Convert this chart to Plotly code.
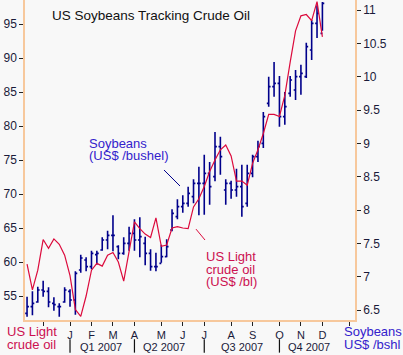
import pandas as pd
import plotly.graph_objects as go

# weekly index (weeks ending Sunday), Nov 2006 - Dec 2007
weeks = pd.date_range("2006-11-12", periods=56, freq="7D")

soy_open = [6.45, 6.55, 6.62, 6.80, 6.78, 6.60, 6.55, 6.62, 6.78, 6.65,
            7.10, 7.25, 7.15, 7.33, 7.40, 7.55, 7.62, 7.45, 7.35, 7.50,
            7.65, 7.55, 7.50, 7.35, 7.15, 7.20, 7.30, 7.70, 7.90, 8.05,
            8.10, 8.20, 8.40, 8.40, 8.55, 8.50, 8.95, 8.30, 8.40, 8.30,
            8.35, 8.10, 8.55, 8.80, 9.00, 9.60, 9.85, 9.90, 9.40, 9.75,
            9.80, 10.00, 10.00, 10.40, 10.80, 10.65]
soy_high = [6.70, 6.78, 6.85, 6.94, 6.84, 6.69, 6.60, 6.84, 6.81, 7.08,
            7.33, 7.29, 7.39, 7.39, 7.59, 7.69, 7.92, 7.47, 7.59, 7.75,
            7.86, 7.89, 7.60, 7.41, 7.36, 7.48, 7.56, 8.01, 8.16, 8.22,
            8.35, 8.46, 8.65, 8.83, 8.72, 9.17, 9.10, 8.46, 8.44, 8.62,
            8.68, 8.68, 8.83, 9.04, 9.47, 10.00, 10.22, 10.01, 9.77, 10.01,
            10.10, 10.18, 10.51, 10.85, 11.07, 11.12]
soy_low = [6.40, 6.42, 6.61, 6.70, 6.54, 6.49, 6.40, 6.61, 6.55, 6.43,
           7.06, 7.08, 7.11, 7.18, 7.39, 7.41, 7.38, 7.26, 7.33, 7.39,
           7.39, 7.29, 7.17, 7.09, 7.08, 7.21, 7.29, 7.68, 7.86, 7.96,
           8.05, 8.10, 7.92, 7.93, 8.08, 8.43, 8.53, 8.08, 8.17, 8.20,
           7.90, 8.05, 8.49, 8.72, 8.93, 9.55, 9.70, 9.25, 9.28, 9.70,
           9.65, 9.73, 9.98, 10.25, 10.58, 10.69]
soy_close = [6.55, 6.60, 6.80, 6.78, 6.62, 6.58, 6.55, 6.80, 6.65, 7.05,
             7.28, 7.15, 7.35, 7.35, 7.55, 7.62, 7.62, 7.35, 7.50, 7.65,
             7.55, 7.60, 7.35, 7.15, 7.15, 7.30, 7.45, 7.95, 8.05, 8.10,
             8.25, 8.40, 8.40, 8.55, 8.35, 8.95, 8.80, 8.40, 8.30, 8.35,
             8.05, 8.55, 8.80, 8.95, 9.40, 9.85, 9.90, 9.40, 9.55, 9.95,
             10.00, 10.05, 10.45, 10.80, 10.95, 11.10]
crude = [59.7, 55.9, 58.8, 63.3, 62.0, 63.4, 62.6, 61.0, 58.0, 53.0,
         52.0, 55.0, 58.8, 59.8, 59.4, 61.0, 61.4, 60.0, 57.2, 61.5,
         65.9, 64.9, 64.1, 63.6, 66.5, 62.3, 62.5, 65.0, 65.2, 65.0,
         64.9, 68.1, 69.3, 71.1, 73.3, 75.0, 76.5, 77.2, 75.6, 71.9,
         71.9, 71.3, 74.5, 76.5, 78.9, 81.7, 81.7, 81.4, 84.5, 89.4,
         94.0, 96.2, 96.4, 95.5, 98.3, 93.1]

month_ticks = ["2006-12-03", "2007-01-07", "2007-02-04", "2007-03-04", "2007-04-01",
               "2007-05-06", "2007-06-03", "2007-07-01", "2007-08-05", "2007-09-02",
               "2007-10-07", "2007-11-04", "2007-12-02", "2008-01-06"]
month_labels = ["", "J", "F", "M", "A", "M", "J", "J", "A", "S", "O", "N", "D", ""]
quarter_labels = ["Q1 2007", "Q2 2007", "Q3 2007", "Q4 2007"]
quarter_centers = ["2007-02-17", "2007-05-09", "2007-08-19", "2007-11-14"]
quarter_seps = ["2007-01-07", "2007-04-01", "2007-07-01", "2007-10-07"]

NAVY = "#00008B"
RED = "#DC0A3C"
AXIS = "#F7C89C"
TXT = "#1a1a3a"
FONT = "Liberation Sans"

fig = go.Figure()
fig.add_trace(go.Ohlc(
    x=weeks, open=soy_open, high=soy_high, low=soy_low, close=soy_close,
    increasing=dict(line=dict(color=NAVY, width=1.6)),
    decreasing=dict(line=dict(color=NAVY, width=1.6)),
    tickwidth=0.35, yaxis="y", showlegend=False, hoverinfo="skip"))
fig.add_trace(go.Scatter(
    x=weeks, y=crude, mode="lines", line=dict(color=RED, width=1.2),
    yaxis="y2", showlegend=False, hoverinfo="skip"))

fig.update_layout(
    width=403, height=355,
    margin=dict(l=25, r=48, t=0, b=35),
    paper_bgcolor="#F8F8F8", plot_bgcolor="#F8F8F8",
    font=dict(family=FONT, size=11, color=TXT),
    xaxis=dict(type="date", range=["2006-11-09 08:00", "2008-01-13 12:00"],
               tickvals=month_ticks, ticktext=month_labels,
               ticks="outside", ticklen=4, tickcolor="#222",
               showline=True, linecolor=AXIS, linewidth=1.5,
               showgrid=False, zeroline=False, rangeslider=dict(visible=False),
               tickfont=dict(family=FONT, size=11, color=TXT)),
    yaxis=dict(side="right", range=[6.35, 11.15], dtick=0.5, tick0=6.5,
               ticks="outside", ticklen=4, tickcolor="#222",
               showline=True, linecolor=AXIS, linewidth=1.5,
               showgrid=False, zeroline=False,
               tickfont=dict(family=FONT, size=12, color=TXT)),
    yaxis2=dict(side="left", overlaying="y", range=[51.47, 98.53], dtick=5, tick0=55,
                ticks="outside", ticklen=4, tickcolor="#222",
                showline=True, linecolor=AXIS, linewidth=1.5,
                showgrid=False, zeroline=False,
                tickfont=dict(family=FONT, size=12, color=TXT)),
)

ann = []
ann.append(dict(text="US Soybeans Tracking Crude Oil", x=0.0758, y=0.953,
                xref="paper", yref="paper", xanchor="left", yanchor="middle",
                showarrow=False, font=dict(family=FONT, size=13.5, color="#111")))
for t, yy in [("Soybeans", 0.553), ("(US$ /bushel)", 0.5156)]:
    ann.append(dict(text=t, x=0.1879, y=yy, xref="paper", yref="paper",
                    xanchor="left", yanchor="middle", showarrow=False,
                    font=dict(family=FONT, size=13, color="#3322CC")))
for t, yy in [("US Light", 0.2), ("crude oil", 0.159), ("(US$ /bl)", 0.119)]:
    ann.append(dict(text=t, x=0.5424, y=yy, xref="paper", yref="paper",
                    xanchor="left", yanchor="middle", showarrow=False,
                    font=dict(family=FONT, size=13, color="#CC1050")))
for t, yy in [("US Light", -0.0344), ("crude oil", -0.078)]:
    ann.append(dict(text=t, x=-0.0606, y=yy, xref="paper", yref="paper",
                    xanchor="left", yanchor="middle", showarrow=False,
                    font=dict(family=FONT, size=13, color="#CC1050")))
for t, yy in [("Soybeans", -0.0344), ("US$ /bshl", -0.078)]:
    ann.append(dict(text=t, x=0.9606, y=yy, xref="paper", yref="paper",
                    xanchor="left", yanchor="middle", showarrow=False,
                    font=dict(family=FONT, size=13, color="#3322CC")))
for q, c in zip(quarter_labels, quarter_centers):
    ann.append(dict(text=q, x=c, y=-0.083, xref="x", yref="paper",
                    xanchor="center", yanchor="middle", showarrow=False,
                    font=dict(family=FONT, size=11, color=TXT)))
fig.update_layout(annotations=ann)

shapes = [
    dict(type="line", xref="paper", yref="paper", x0=0.4212, y0=0.46875,
         x1=0.4697, y1=0.41875, line=dict(color=NAVY, width=1)),
    dict(type="line", xref="paper", yref="paper", x0=0.5182, y0=0.284,
         x1=0.5455, y1=0.25, line=dict(color=RED, width=1)),
]
for s in quarter_seps:
    shapes.append(dict(type="line", xref="x", yref="paper", x0=s, x1=s,
                       y0=-0.102, y1=-0.06, line=dict(color="#111", width=1.2)))
fig.update_layout(shapes=shapes)

fig.write_html("out.html", config={"displayModeBar": False},
               post_script="document.body.style.margin='0';document.body.style.overflow='hidden';")
